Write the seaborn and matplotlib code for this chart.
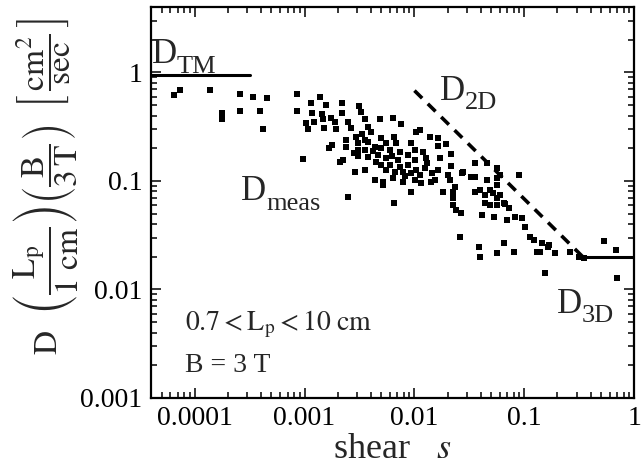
import numpy as np
import pandas as pd
import matplotlib
matplotlib.use("Agg")
import matplotlib.pyplot as plt
import seaborn as sns
from matplotlib.ticker import FuncFormatter, LogLocator

shear = [6.5e-5, 7.3e-5, 1.39e-4, 1.79e-4, 1.79e-4, 2.6e-4, 2.6e-4, 3.4e-4, 3.9e-4, 4.2e-4,
         4.6e-4, 8.5e-4, 8.5e-4, 9.6e-4,
         1.37e-3, 1.14e-3, 1.56e-3, 2.21e-3, 3.15e-3, 1.16e-3, 1.43e-3, 2.21e-3, 1.03e-3, 1.21e-3,
         1.46e-3, 1.73e-3, 1.07e-3, 1.49e-3, 1.91e-3, 1.95e-3, 2.51e-3, 3.29e-3, 3.57e-3, 4.88e-3,
         6.4e-3, 7.55e-3, 3.8e-3, 2.62e-3, 4.05e-3, 2.96e-3, 3.57e-3, 3.09e-3, 3.8e-3, 4.98e-3,
         6.53e-3, 5.53e-3, 6.81e-3, 1.76e-3, 1.66e-3, 2.36e-3, 3.09e-3, 3.57e-3, 4.4e-3, 4.98e-3,
         6.0e-3, 7.4e-3, 9.3e-3, 1.12e-2, 1.03e-2, 1.38e-2, 1.63e-2, 1.92e-2, 1.63e-2, 1.01e-2,
         1.19e-2, 8.7e-3, 1.27e-2, 1.70e-2, 2.14e-2, 3.09e-3, 3.8e-3, 4.68e-3, 5.53e-3, 7.1e-3,
         1.01e-2, 2.12e-3, 2.26e-3, 4.49e-3, 6.0e-3, 7.4e-3, 8.7e-3, 1.03e-2, 1.24e-2, 5.53e-3,
         2.9e-3, 3.57e-3, 6.67e-3, 7.87e-3, 9.3e-3, 1.12e-2, 1.63e-2, 2.14e-2, 2.74e-2, 3.59e-2,
         4.61e-2, 5.68e-2, 8.97e-2, 3.24e-2, 3.59e-2, 4.61e-2, 5.68e-2, 2.01e-2, 4.4e-3, 5.2e-3,
         6.4e-3, 7.87e-3, 1.01e-2, 1.15e-2, 1.41e-2, 1.53e-2, 2.09e-2, 2.32e-2, 1.81e-2, 2.23e-2,
         9.3e-3, 5.2e-3, 2.51e-3, 6.53e-3, 2.23e-2, 2.23e-2, 2.37e-2, 2.63e-2, 3.52e-2, 3.98e-2,
         4.42e-2, 4.91e-2, 5.68e-2, 6.04e-2, 5.68e-2, 4.42e-2, 4.91e-2, 5.68e-2, 6.56e-2, 7.28e-2,
         4.15e-2, 5.33e-2, 6.99e-2, 8.24e-2, 9.54e-2, 0.102, 0.113, 0.122, 0.130, 0.145,
         0.167, 0.190, 0.139, 6.56e-2, 2.58e-2, 3.9e-2, 3.98e-2, 5.68e-2, 8.07e-2, 0.154,
         0.525, 0.688, 0.703, 0.312, 0.347, 0.259, 0.164, 6.7e-2, 5.22e-2, 2.69e-2,
         6.04e-2, 2.4e-3, 2.8e-3, 3.3e-3, 4.2e-3, 5.0e-3, 6.2e-3, 8.2e-3, 1.3e-2, 1.45e-2]
D_meas = [0.62, 0.69, 0.69, 0.42, 0.37, 0.63, 0.44, 0.59, 0.44, 0.30,
          0.58, 0.63, 0.44, 0.16,
          0.59, 0.52, 0.50, 0.52, 0.49, 0.42, 0.415, 0.42, 0.34, 0.35,
          0.37, 0.38, 0.30, 0.31, 0.35, 0.30, 0.35, 0.43, 0.37, 0.37,
          0.38, 0.335, 0.315, 0.31, 0.28, 0.255, 0.24, 0.224, 0.23, 0.25,
          0.255, 0.224, 0.224, 0.215, 0.20, 0.206, 0.193, 0.193, 0.206, 0.20,
          0.193, 0.185, 0.224, 0.295, 0.283, 0.255, 0.25, 0.22, 0.21, 0.193,
          0.185, 0.174, 0.163, 0.163, 0.177, 0.17, 0.166, 0.174, 0.163, 0.156,
          0.156, 0.15, 0.156, 0.15, 0.14, 0.135, 0.14, 0.126, 0.132, 0.126,
          0.121, 0.126, 0.121, 0.121, 0.119, 0.114, 0.126, 0.137, 0.121, 0.147,
          0.147, 0.132, 0.114, 0.109, 0.109, 0.102, 0.107, 0.114, 0.102, 0.098,
          0.107, 0.098, 0.102, 0.096, 0.098, 0.102, 0.102, 0.088, 0.079, 0.079,
          0.079, 0.092, 0.071, 0.063, 0.070, 0.060, 0.054, 0.051, 0.079, 0.083,
          0.074, 0.083, 0.092, 0.074, 0.070, 0.063, 0.060, 0.060, 0.063, 0.056,
          0.049, 0.047, 0.044, 0.047, 0.046, 0.038, 0.0305, 0.0286, 0.0222, 0.0268,
          0.0257, 0.0217, 0.0222, 0.0268, 0.0305, 0.0247, 0.0199, 0.0217, 0.0222, 0.0142,
          0.028, 0.0231, 0.0128, 0.0199, 0.0195, 0.0222, 0.0247, 0.061, 0.078, 0.119,
          0.114, 0.24, 0.18, 0.27, 0.19, 0.14, 0.17, 0.11, 0.145, 0.118]

# model lines
tm_s = [4e-5, 3.2e-4]
tm_D = [0.95, 0.95]
d2_s = [0.0100, 0.34]
d2_D = [0.68, 0.020]
d3_s = [0.34, 1.0]
d3_D = [0.020, 0.020]

df = pd.DataFrame({"s": shear, "D": D_meas})

sns.set_theme(style="ticks")
plt.rcParams["font.family"] = ["Liberation Serif", "DejaVu Serif"]
plt.rcParams["mathtext.fontset"] = "stix"

fig, ax = plt.subplots(figsize=(6.42, 4.73), dpi=100)
fig.subplots_adjust(left=0.235, right=0.988, bottom=0.1586, top=0.985)

sns.scatterplot(data=df, x="s", y="D", marker="s", color="black", s=22,
                linewidth=0, ax=ax, zorder=3)
ax.plot(tm_s, tm_D, color="black", lw=2.2)
ax.plot(d3_s, d3_D, color="black", lw=2.2)
ax.plot(d2_s, d2_D, color="black", lw=2.6, dashes=(3, 2.2))

ax.set_xscale("log")
ax.set_yscale("log")
ax.set_xlim(4e-5, 1.0)
ax.set_ylim(1e-3, 4.0)

fmt = FuncFormatter(lambda v, p: "{:g}".format(v))
ax.xaxis.set_major_locator(LogLocator(base=10, numticks=10))
ax.yaxis.set_major_locator(LogLocator(base=10, numticks=10))
ax.xaxis.set_major_formatter(fmt)
ax.yaxis.set_major_formatter(fmt)
ax.tick_params(which="both", direction="in", top=True, right=True, colors="black",
               labelsize=20, width=1.1)
ax.tick_params(which="major", length=7, pad=6)
ax.tick_params(which="minor", length=4)
for sp in ax.spines.values():
    sp.set_linewidth(1.6)
    sp.set_color("black")

ax.set_xlabel(r"shear   $s$", fontsize=26, labelpad=1)
ax.set_ylabel(r"$\mathrm{D}\ \ \left(\dfrac{\mathrm{L_p}}{1\ \mathrm{cm}}\right)"
              r"\left(\dfrac{\mathrm{B}}{3\,\mathrm{T}}\right)\ \ "
              r"\left[\,\dfrac{\mathrm{cm}^2}{\mathrm{sec}}\,\right]$", fontsize=24)
ax.yaxis.set_label_coords(-0.146, 0.54)


def dlabel(x, y, sub):
    # big D with a fairly large subscript next to it
    ax.text(x, y, "D", fontsize=25, va="baseline")
    ax.annotate(sub, (x, y), xytext=(18, -7), textcoords="offset points",
                fontsize=19, va="baseline")


dlabel(4.1e-5, 1.22, "TM")
dlabel(0.017, 0.56, "2D")
dlabel(2.66e-4, 0.0668, "meas")
dlabel(0.198, 0.0061, "3D")

ax.text(8.1e-5, 0.00423, r"$\mathrm{0.7 < L_p < 10\ cm}$", fontsize=20, va="baseline")
ax.text(8.1e-5, 0.00174, "B = 3 T", fontsize=20, va="baseline")

fig.savefig("out.png", dpi=100)
